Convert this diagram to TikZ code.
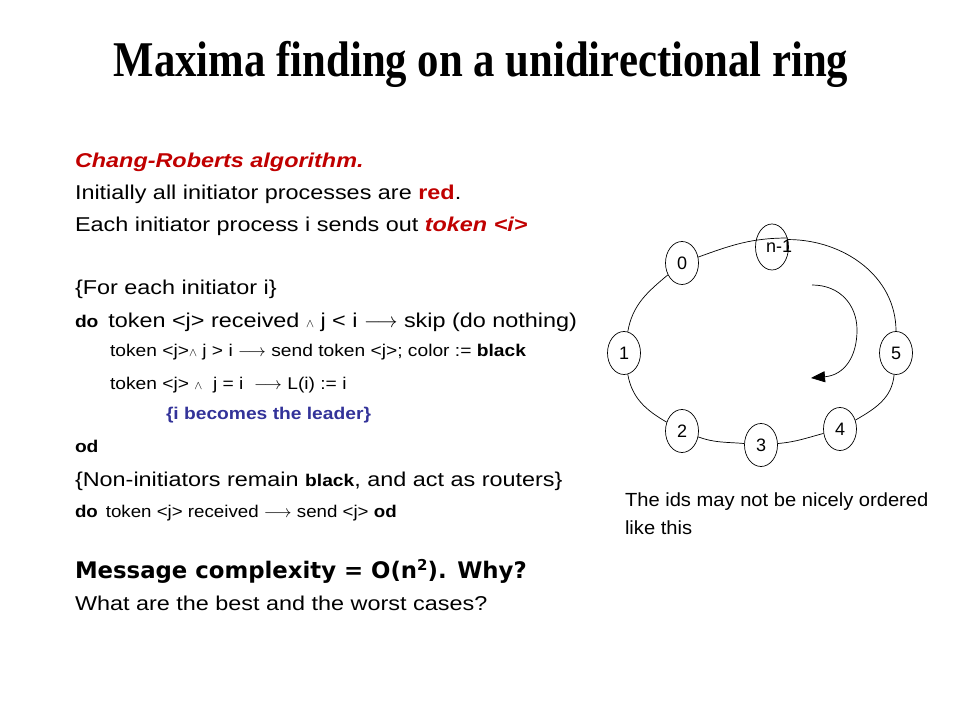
\documentclass[tikz,border=0pt]{standalone}
\usepackage{fontspec}
\usetikzlibrary{shapes.geometric,arrows.meta}
\setmainfont[FakeStretch=1.17]{Liberation Sans}
\newfontfamily\titlefont[FakeStretch=0.855]{Liberation Serif}
\newfontfamily\smallfont[FakeStretch=1.13]{Liberation Sans}
\newfontfamily\notefont[FakeStretch=1.06]{Liberation Sans}
\newfontfamily\routefont[FakeStretch=1.10]{Liberation Sans}
\newfontfamily\plainfont{Liberation Sans}
\newfontfamily\verdfont{DejaVu Sans}
\newcommand\myfs[1]{\fontsize{#1}{#1}\selectfont}
\definecolor{slred}{RGB}{192,0,0}
\definecolor{slblue}{RGB}{51,51,153}
\newcommand\andsym{{\myfs{13}$\wedge$}}
\newcommand\arr{$\longrightarrow$}
\begin{document}
\begin{tikzpicture}[x=1pt,y=1pt,
  txt/.style={anchor=base west,inner sep=0pt,outer sep=0pt,font=\myfs{20}},
  smalltxt/.style={anchor=base west,inner sep=0pt,outer sep=0pt,font=\smallfont\myfs{17}},
  notetxt/.style={anchor=base west,inner sep=0pt,outer sep=0pt,font=\notefont\myfs{19}},
  pnode/.style={ellipse,draw,line width=0.7pt,fill=white,minimum width=33pt,minimum height=43pt,inner sep=0pt,font=\plainfont\myfs{18}},
  ringline/.style={line width=0.7pt}]
\useasboundingbox (0,0) rectangle (960,720);
% title
\node[anchor=base,inner sep=0pt,font=\titlefont\bfseries\myfs{50}] (title) at (481,643) {Maxima finding on a unidirectional ring};
% body
\node[txt,text=slred,font=\bfseries\itshape\myfs{20}] (l1) at (75,552) {Chang-Roberts algorithm.};
\node[txt] (l2) at (75,520) {Initially all initiator processes are \textcolor{slred}{\bfseries red}.};
\node[txt] (l3) at (75,488) {Each initiator process i sends out \textcolor{slred}{\bfseries\itshape token <i>}};
\node[txt] (l4) at (75,425) {\{For each initiator i\}};
\node[txt] (l5) at (75,392) {{\bfseries\smallfont\myfs{17}do}\, token <j> received \andsym\ j < i \arr\ skip (do nothing)};
\node[smalltxt] (l6) at (110,363) {token <j>\andsym\ j > i \arr\ send token <j>; color := \textbf{black}};
\node[smalltxt] (l7) at (110,330) {token <j> \andsym\ \ j = i \ \arr\ L(i) := i};
\node[smalltxt,text=slblue,font=\smallfont\bfseries\myfs{17}] (l8) at (166,300) {\{i becomes the leader\}};
\node[smalltxt,font=\smallfont\bfseries\myfs{17}] (l9) at (75,267) {od};
\node[txt] (l10) at (75,233) {\{Non-initiators remain {\smallfont\bfseries\myfs{17}black}, and act as routers\}};
\node[smalltxt,font=\routefont\myfs{17}] (l11) at (75,202) {{\bfseries do}\, token <j> received \arr\ send <j> {\bfseries od}};
\node[txt,font=\verdfont\bfseries\myfs{22.8}] (l12) at (75,142) {Message complexity = O(n\raisebox{8pt}{\myfs{15}2}). Why?};
\node[txt] (l13) at (75,110) {What are the best and the worst cases?};
% right note
\node[notetxt] (n1) at (625,213) {The ids may not be nicely ordered};
\node[notetxt] (n2) at (625,185) {like this};
% ring nodes
\node[pnode] (p0) at (682,457) {0};
\node[pnode,minimum height=46pt] (pm) at (772,473) {};
\node[pnode] (p1) at (624,367) {1};
\node[pnode] (p5) at (896,367) {5};
\node[pnode] (p2) at (682,289) {2};
\node[pnode] (p3) at (761,275) {3};
\node[pnode] (p4) at (840,291) {4};
% ring connectors
\draw[ringline] (p0) to[out=20,in=180] (pm.30);
\draw[ringline] (pm.25) to[out=0,in=90] (p5);
\draw[ringline] (p5) to[out=265,in=30] (p4);
\draw[ringline] (p4) to[out=195,in=5] (p3);
\draw[ringline] (p3) to[out=175,in=340] (p2);
\draw[ringline] (p2) to[out=150,in=280] (p1);
\draw[ringline] (p1) to[out=80,in=220] (p0);
\node[inner sep=0pt,font=\plainfont\myfs{18}] (pmt) at (779,474) {n-1};
% direction arrow
\coordinate (arS) at (812,435);
\coordinate (arE) at (811,342);
\draw[line width=0.7pt,-{Triangle[length=14pt,width=11pt]}] (arS) .. controls (840,435) and (857,415) .. (857,390) .. controls (857,364) and (845,345) .. (arE);
\end{tikzpicture}
\end{document}
